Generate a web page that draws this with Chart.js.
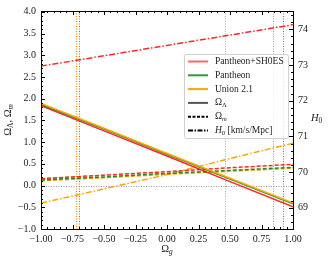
<!DOCTYPE html>
<html>
<head>
<meta charset="utf-8">
<script src="https://cdn.jsdelivr.net/npm/chart.js@4.4.0/dist/chart.umd.min.js"></script>
<style>
  html, body { margin: 0; padding: 0; background: #fff; }
  canvas { display: block; }
</style>
</head>
<body>
<canvas id="chart" width="331" height="261"></canvas>
<script>
'use strict';

// Omega_g values the curves were read at
var omegaG = [-1, -0.5, 0, 0.5, 1];

// Omega_Lambda (solid)
var lambdaSH0ES = [1.84, 1.26, 0.68, 0.09, -0.49];
var lambdaPantheon = [1.87, 1.30, 0.72, 0.15, -0.42];
var lambdaUnion = [1.89, 1.32, 0.74, 0.17, -0.40];

// Omega_m (dashed)
var matterSH0ES = [0.16, 0.24, 0.32, 0.41, 0.49];
var matterPantheon = [0.13, 0.20, 0.28, 0.35, 0.42];
var matterUnion = [0.11, 0.18, 0.26, 0.33, 0.40];

// H0 in km/s/Mpc (dash-dot, right axis)
var h0SH0ES = [72.97, 73.26, 73.55, 73.84, 74.13];
var h0Union = [69.13, 69.53, 69.93, 70.38, 70.81];

// dotted vertical bounds on Omega_g
var boundsSH0ES = [0.46];
var boundsPantheon = [-0.70, 0.92];
var boundsUnion = [-0.725, 0.84];

// tick labels
var xTickValues = [-1, -0.75, -0.5, -0.25, 0, 0.25, 0.5, 0.75, 1];
var yTickValues = [-1, -0.5, 0, 0.5, 1, 1.5, 2, 2.5, 3, 3.5, 4];
var h0TickValues = [69, 70, 71, 72, 73, 74];

var yMin = -1, yMax = 4.02;
var h0Min = 68.405, h0Max = 74.514;

var RED = 'rgba(255,0,0,0.85)';
var GREEN = 'rgba(0,128,0,0.85)';
var ORANGE = '#ffa500';
var SERIF = '"Liberation Serif", "DejaVu Serif", serif';

Chart.defaults.font.family = SERIF;

function series(xs, ys) {
  return xs.map(function (x, i) { return { x: x, y: ys[i] }; });
}

function fmt(digits) {
  return function (v) {
    var s = Math.abs(v).toFixed(digits);
    return v < 0 ? '\u2212' + s : s;
  };
}

var datasets = [];

function addCurve(ys, color, dash, axis) {
  datasets.push({
    data: series(omegaG, ys),
    borderColor: color,
    borderWidth: 1.5,
    borderDash: dash,
    yAxisID: axis,
    pointRadius: 0,
    fill: false
  });
}

addCurve(lambdaUnion, ORANGE, [], 'y');
addCurve(lambdaPantheon, GREEN, [], 'y');
addCurve(lambdaSH0ES, RED, [], 'y');
addCurve(matterPantheon, GREEN, [4, 2], 'y');
addCurve(matterUnion, ORANGE, [4, 2], 'y');
addCurve(matterSH0ES, RED, [4, 2], 'y');
addCurve(h0SH0ES, RED, [6, 2, 1.5, 2], 'y2');
addCurve(h0Union, ORANGE, [6, 2, 1.5, 2], 'y2');

var boundLines = [
  { list: boundsSH0ES, color: 'rgba(255,0,0,0.45)' },
  { list: boundsPantheon, color: 'rgba(0,128,0,0.75)' },
  { list: boundsUnion, color: '#ff8c00' }
];

// text with subscripts: parts = [{t, sub, it}]
function drawRich(ctx, parts, x, y, size, align) {
  function font(p) {
    var s = p.sub ? size * 0.7 : size;
    return (p.it ? 'italic ' : '') + s + 'px ' + SERIF;
  }
  var w = 0;
  parts.forEach(function (p) { ctx.font = font(p); w += ctx.measureText(p.t).width; });
  var cx = align === 'center' ? x - w / 2 : x;
  parts.forEach(function (p) {
    ctx.font = font(p);
    ctx.fillText(p.t, cx, y + (p.sub ? size * 0.28 : 0));
    cx += ctx.measureText(p.t).width;
  });
}

var legendItems = [
  { parts: [{ t: 'Pantheon+SH0ES' }], color: 'rgba(255,0,0,0.6)', dash: [] },
  { parts: [{ t: 'Pantheon' }], color: 'rgba(0,128,0,0.8)', dash: [] },
  { parts: [{ t: 'Union 2.1' }], color: ORANGE, dash: [] },
  { parts: [{ t: '\u03a9' }, { t: '\u039b', sub: true }], color: '#555', dash: [] },
  { parts: [{ t: '\u03a9' }, { t: 'm', sub: true, it: true }], color: '#000', dash: [3, 1.5] },
  { parts: [{ t: 'H', it: true }, { t: '0', sub: true }, { t: ' [km/s/Mpc]' }], color: '#000', dash: [5, 1.5, 1.5, 1.5] }
];

// dotted reference lines behind the curves
var refLines = {
  id: 'refLines',
  beforeDatasetsDraw: function (chart) {
    var ctx = chart.ctx, a = chart.chartArea;
    var sx = chart.scales.x, sy = chart.scales.y;
    ctx.save();
    ctx.beginPath();
    ctx.rect(a.left, a.top, a.right - a.left, a.bottom - a.top);
    ctx.clip();
    ctx.lineWidth = 1;
    ctx.setLineDash([1, 1.5]);
    boundLines.forEach(function (g) {
      ctx.strokeStyle = g.color;
      g.list.forEach(function (b) {
        var px = Math.round(sx.getPixelForValue(b)) + 0.5;
        ctx.beginPath();
        ctx.moveTo(px, sy.getPixelForValue(yMax));
        ctx.lineTo(px, sy.getPixelForValue(yMin));
        ctx.stroke();
      });
    });
    var pz = Math.round(sy.getPixelForValue(0)) + 0.5;
    ctx.strokeStyle = '#999';
    ctx.beginPath();
    ctx.moveTo(sx.getPixelForValue(-1), pz);
    ctx.lineTo(sx.getPixelForValue(1), pz);
    ctx.stroke();
    ctx.restore();
  }
};

var frameTicks = {
  id: 'frameTicks',
  afterDraw: function (chart) {
    var ctx = chart.ctx, a = chart.chartArea;
    var sx = chart.scales.x, sy = chart.scales.y, sy2 = chart.scales.y2;

    ctx.save();
    ctx.strokeStyle = '#000';
    ctx.lineWidth = 1;
    ctx.setLineDash([]);

    function run(scale, from, to, step, fn) {
      var n = Math.round((to - from) / step);
      for (var i = 0; i <= n; i++) {
        var p = Math.round(scale.getPixelForValue(from + i * step)) + 0.5;
        fn(p);
      }
    }
    function xTick(len) {
      return function (p) {
        ctx.beginPath();
        ctx.moveTo(p, a.bottom); ctx.lineTo(p, a.bottom - len);
        ctx.moveTo(p, a.top); ctx.lineTo(p, a.top + len);
        ctx.stroke();
      };
    }
    function leftTick(len) {
      return function (p) {
        ctx.beginPath(); ctx.moveTo(a.left, p); ctx.lineTo(a.left + len, p); ctx.stroke();
      };
    }
    function rightTick(len) {
      return function (p) {
        ctx.beginPath(); ctx.moveTo(a.right, p); ctx.lineTo(a.right - len, p); ctx.stroke();
      };
    }

    run(sx, -1, 1, 0.25, xTick(4));
    run(sx, -1, 1, 0.05, xTick(2));
    run(sy, -1, 4, 0.5, leftTick(4));
    run(sy, -1, 4, 0.1, leftTick(2));
    run(sy2, 69, 74, 1, rightTick(4));
    run(sy2, 68.6, 74.4, 0.2, rightTick(2));

    ctx.strokeRect(a.left + 0.5, a.top + 0.5, a.right - a.left, a.bottom - a.top);

    // legend
    var bw = 104, bh = 84;
    var bx = a.right - 5 - bw, by = a.top + 43;
    ctx.fillStyle = 'rgba(255,255,255,0.8)';
    ctx.strokeStyle = '#d0d0d0';
    ctx.beginPath();
    ctx.roundRect(bx + 0.5, by + 0.5, bw, bh, 2);
    ctx.fill();
    ctx.stroke();
    ctx.textBaseline = 'middle';
    ctx.textAlign = 'left';
    legendItems.forEach(function (item, i) {
      var ry = by + 7.5 + i * 13.8;
      ctx.strokeStyle = item.color;
      ctx.lineWidth = 2;
      ctx.setLineDash(item.dash);
      ctx.beginPath();
      ctx.moveTo(bx + 4, ry); ctx.lineTo(bx + 24, ry);
      ctx.stroke();
      ctx.fillStyle = '#222';
      drawRich(ctx, item.parts, bx + 31, ry, 9.5, 'left');
    });
    ctx.setLineDash([]);

    // axis titles
    ctx.fillStyle = '#222';
    ctx.textBaseline = 'middle';
    drawRich(ctx, [{ t: '\u03a9' }, { t: 'g', sub: true, it: true }], (a.left + a.right) / 2, 249, 10.5, 'center');
    drawRich(ctx, [{ t: 'H', it: true }, { t: '0', sub: true }], 311, 118, 10.5, 'left');
    ctx.translate(8, (a.top + a.bottom) / 2);
    ctx.rotate(-Math.PI / 2);
    drawRich(ctx, [{ t: '\u03a9' }, { t: '\u039b', sub: true }, { t: ', \u03a9' }, { t: 'm', sub: true, it: true }], 0, 0, 10.5, 'center');
    ctx.restore();
  }
};

function fixedTicks(values) {
  return function (scale) {
    scale.ticks = values.map(function (v) { return { value: v }; });
  };
}

var tickFont = { size: 10 };

var chart = new Chart(document.getElementById('chart'), {
  type: 'line',
  data: { datasets: datasets },
  options: {
    responsive: false,
    animation: false,
    devicePixelRatio: 1,
    layout: { padding: { top: 3, left: 0, right: 0, bottom: 0 } },
    plugins: { legend: { display: false }, tooltip: { enabled: false } },
    elements: { line: { tension: 0 }, point: { radius: 0 } },
    scales: {
      x: {
        type: 'linear', min: -1, max: 1,
        grid: { display: false, drawTicks: false },
        border: { display: false },
        ticks: { padding: 4, color: '#222', font: tickFont, autoSkip: false, maxRotation: 0, callback: fmt(2) },
        afterBuildTicks: fixedTicks(xTickValues),
        afterFit: function (s) { s.height = 32; }
      },
      y: {
        type: 'linear', position: 'left', min: yMin, max: yMax,
        grid: { display: false, drawTicks: false },
        border: { display: false },
        ticks: { padding: 5, color: '#222', font: tickFont, autoSkip: false, callback: fmt(1) },
        afterBuildTicks: fixedTicks(yTickValues),
        afterFit: function (s) { s.width = 41; }
      },
      y2: {
        type: 'linear', position: 'right', min: h0Min, max: h0Max,
        grid: { display: false, drawTicks: false },
        border: { display: false },
        ticks: { padding: 5, color: '#222', font: tickFont, autoSkip: false, callback: fmt(0) },
        afterBuildTicks: fixedTicks(h0TickValues),
        afterFit: function (s) { s.width = 38; }
      }
    }
  },
  plugins: [refLines, frameTicks]
});
</script>
</body>
</html>
